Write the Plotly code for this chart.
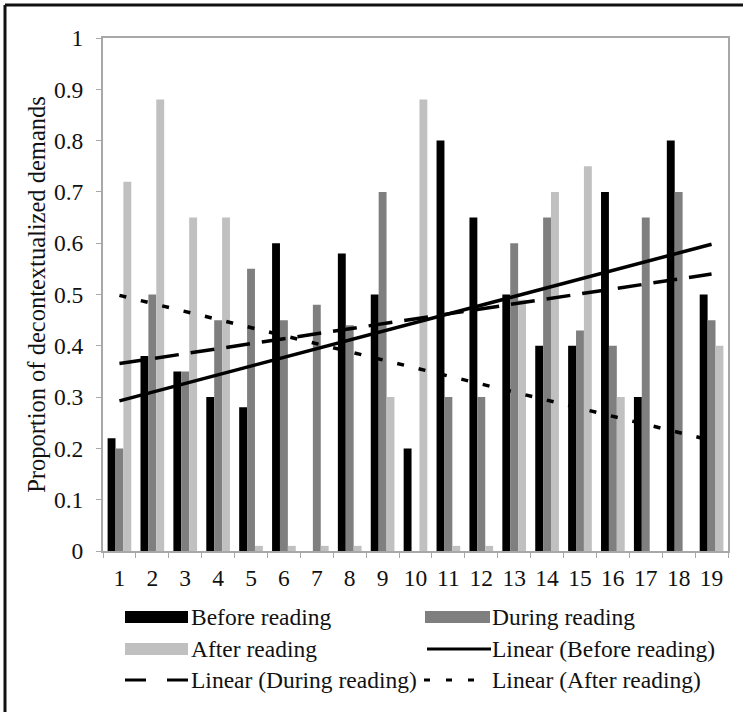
import numpy as np
import plotly.graph_objects as go

categories = [str(i) for i in range(1, 20)]
before_reading = [0.22, 0.38, 0.35, 0.30, 0.28, 0.60, 0.00, 0.58, 0.50, 0.20,
                  0.80, 0.65, 0.50, 0.40, 0.40, 0.70, 0.30, 0.80, 0.50]
during_reading = [0.20, 0.50, 0.35, 0.45, 0.55, 0.45, 0.48, 0.44, 0.70, 0.00,
                  0.30, 0.30, 0.60, 0.65, 0.43, 0.40, 0.65, 0.70, 0.45]
after_reading = [0.72, 0.88, 0.65, 0.65, 0.01, 0.01, 0.01, 0.01, 0.30, 0.88,
                 0.01, 0.01, 0.49, 0.70, 0.75, 0.30, 0.00, 0.00, 0.40]
series_names = ["Before reading", "During reading", "After reading"]
trend_names = ["Linear (Before reading)", "Linear (During reading)", "Linear (After reading)"]
y_ticks = [round(0.1 * i, 1) for i in range(11)]
y_title = "Proportion of decontextualized demands"

W, H = 743, 712
ML, MR, MT, MB = 103, 15, 38, 161
PW, PH = W - ML - MR, H - MT - MB


def px(x):
    return (x - ML) / PW


def py(y):
    return 1 - (y - MT) / PH


bar_colors = ["#000000", "#7f7f7f", "#c0c0c0"]
line_dashes = ["solid", "24px,12px", "7px,15px"]
FONT = "Liberation Serif, Times New Roman, serif"
FS = 23.5

fig = go.Figure()
series = [before_reading, during_reading, after_reading]
for name, vals, col in zip(series_names, series, bar_colors):
    fig.add_trace(go.Bar(x=categories, y=vals, name=name, marker_color=col,
                         marker_line_width=0, showlegend=False))

xs = np.arange(1, 20)
for name, vals, dash in zip(trend_names, series, line_dashes):
    m, b = np.polyfit(xs, np.array(vals), 1)
    fit = m * xs + b
    fig.add_trace(go.Scatter(x=[categories[0], categories[-1]], y=[fit[0], fit[-1]],
                             mode="lines", name=name, showlegend=False,
                             line=dict(color="#000000", width=3.5, dash=dash)))

shapes = []
annotations = []
# manual legend: (kind, style, label, swatch x0, swatch x1, text x)
legend_items = [
    ("bar", bar_colors[0], series_names[0], 125, 188, 189),
    ("bar", bar_colors[1], series_names[1], 425, 490, 490),
    ("bar", bar_colors[2], series_names[2], 125, 188, 189),
    ("line", "solid", trend_names[0], 427, 491, 490),
    ("line", "21px,21px", trend_names[1], 125, 188, 189),
    ("line", "6px,16px", trend_names[2], 424, 480, 490),
]
rows_y = [617, 649, 680]
for i, (kind, style, label, x0, x1, tx) in enumerate(legend_items):
    y0 = rows_y[i // 2]
    if kind == "bar":
        shapes.append(dict(type="rect", xref="paper", yref="paper",
                           x0=px(x0), x1=px(x1), y0=py(y0 + 6), y1=py(y0 - 6),
                           fillcolor=style, line=dict(width=0)))
    else:
        shapes.append(dict(type="line", xref="paper", yref="paper",
                           x0=px(x0), x1=px(x1), y0=py(y0), y1=py(y0),
                           line=dict(color="#000000", width=3, dash=style)))
    annotations.append(dict(text=label, xref="paper", yref="paper",
                            x=px(tx), y=py(y0), xanchor="left", yanchor="middle",
                            showarrow=False, font=dict(family=FONT, size=FS, color="#111")))

# outer frame
shapes.append(dict(type="line", xref="paper", yref="paper",
                   x0=px(5), x1=px(743), y0=py(5), y1=py(5),
                   line=dict(color="#111", width=3)))
shapes.append(dict(type="line", xref="paper", yref="paper",
                   x0=px(5), x1=px(5), y0=py(5), y1=py(712),
                   line=dict(color="#111", width=3)))

fig.update_layout(
    width=W, height=H,
    margin=dict(l=ML, r=MR, t=MT, b=MB),
    paper_bgcolor="white", plot_bgcolor="white",
    barmode="group", bargap=0.28, bargroupgap=0,
    font=dict(family=FONT, size=FS, color="#111"),
    shapes=shapes, annotations=annotations,
    xaxis=dict(type="category", showgrid=False, showline=True, linecolor="#a8a8a8",
               linewidth=2, mirror=True, ticks="outside", tickson="boundaries",
               ticklen=5, tickcolor="#a8a8a8", tickfont=dict(family=FONT, size=FS),
               tickangle=0, ticklabelstandoff=5),
    yaxis=dict(range=[0, 1], tickvals=y_ticks, showgrid=False, zeroline=False,
               showline=True, linecolor="#a8a8a8", linewidth=2, mirror=True,
               ticks="outside", ticklen=5, tickcolor="#a8a8a8",
               tickfont=dict(family=FONT, size=FS), ticklabelstandoff=8,
               title=dict(text=y_title, font=dict(family=FONT, size=FS + 1), standoff=1)),
)

fig.write_html("out.html", config={"displayModeBar": False},
               post_script="document.body.style.margin='0';")
